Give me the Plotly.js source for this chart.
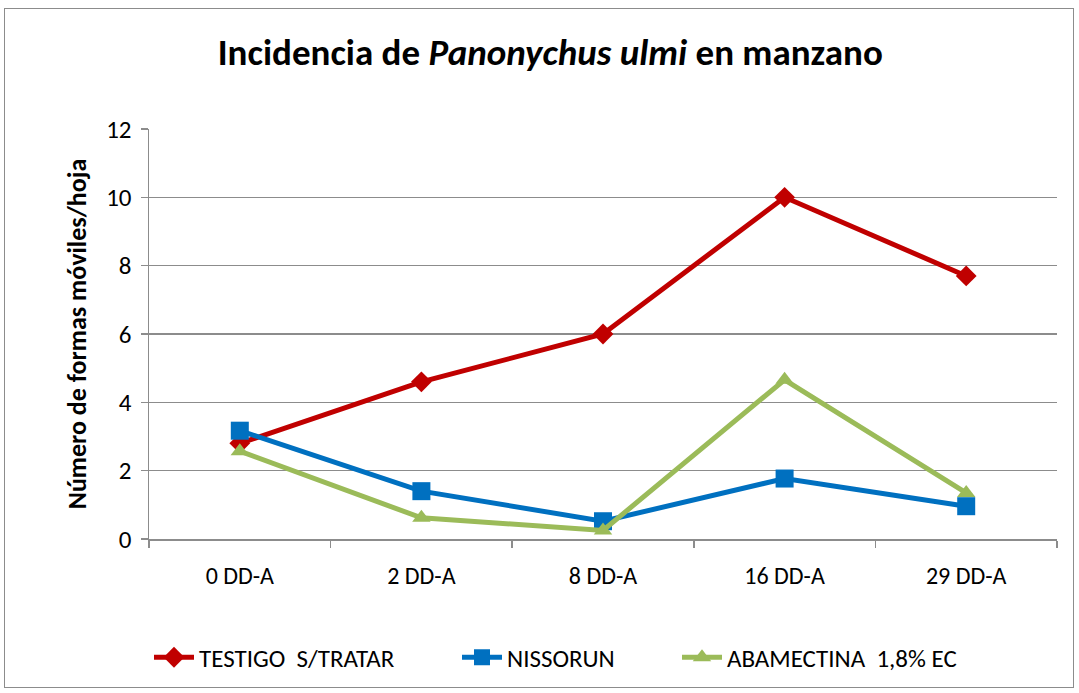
<!DOCTYPE html>
<html><head><meta charset="utf-8">
<script src="https://cdn.plot.ly/plotly-3.0.1.min.js"></script>
<style>
html,body{margin:0;padding:0;background:#fff;}
#wrap{position:relative;width:1079px;height:693px;}
#frame{position:absolute;left:4px;top:8px;width:1070px;height:680px;border:1.5px solid #8c8c8c;box-sizing:border-box;pointer-events:none;z-index:5;}
#chart{position:absolute;left:0;top:0;width:1079px;height:693px;}
</style></head>
<body><div id="wrap"><div id="chart"></div><div id="frame"></div></div>
<script>
const categories = ["0 DD-A", "2 DD-A", "8 DD-A", "16 DD-A", "29 DD-A"];
const testigo = [2.8, 4.6, 6.0, 10.0, 7.7];
const nissorun = [3.17, 1.4, 0.52, 1.77, 0.96];
const abamectina = [2.57, 0.62, 0.25, 4.66, 1.35];
const seriesNames = ["TESTIGO  S/TRATAR", "NISSORUN", "ABAMECTINA  1,8% EC"];
const yTicks = [0, 2, 4, 6, 8, 10, 12];

const FONT = 'Carlito, "Liberation Sans Narrow", "DejaVu Sans Condensed", sans-serif';

const traces = [
  {x: categories, y: testigo, name: seriesNames[0], type: 'scatter', mode: 'lines+markers', legendwidth: 253,
   line: {color: '#C00000', width: 5}, marker: {symbol: 'diamond', size: 16, color: '#C00000'}},
  {x: categories, y: nissorun, name: seriesNames[1], type: 'scatter', mode: 'lines+markers', legendwidth: 165,
   line: {color: '#0070C0', width: 5}, marker: {symbol: 'square', size: 18, color: '#0070C0'}},
  {x: categories, y: abamectina, name: seriesNames[2], type: 'scatter', mode: 'lines+markers',
   line: {color: '#9BBB59', width: 5}, marker: {symbol: 'triangle-up', size: 16, color: '#9BBB59'}}
];

const layout = {
  width: 1079, height: 693,
  margin: {l: 149, r: 22, t: 129, b: 154},
  paper_bgcolor: '#fff', plot_bgcolor: '#fff',
  font: {family: FONT, color: '#000'},
  title: {text: 'Incidencia de <i>Panonychus ulmi</i> en manzano', x: 0.51, xanchor: 'center', y: 0.925, yanchor: 'middle',
          font: {family: FONT, size: 37, color: '#000', weight: 'bold'}},
  xaxis: {type: 'category', range: [-0.5, 4.5], showgrid: false, showline: true, linecolor: '#8c8c8c', linewidth: 1.5,
          ticks: 'outside', tickson: 'boundaries', ticklen: 7, tickcolor: '#8c8c8c', tickwidth: 1.5, ticklabelstandoff: 15,
          tickfont: {family: FONT, size: 24, color: '#000'}, fixedrange: true, zeroline: false},
  yaxis: {range: [0, 12], tickvals: yTicks, ticktext: yTicks.map(String), showgrid: true, gridcolor: '#8c8c8c', gridwidth: 1.5,
          showline: true, linecolor: '#8c8c8c', linewidth: 1.5, ticks: 'outside', ticklen: 7, tickcolor: '#8c8c8c', tickwidth: 1.5,
          zeroline: false, tickfont: {family: FONT, size: 25, color: '#000'}, ticklabelstandoff: 4,
          title: {text: 'Número de formas móviles/hoja', standoff: 12, font: {family: FONT, size: 26, color: '#000', weight: 'bold'}}},
  legend: {orientation: 'h', x: 0.0, xanchor: 'left', y: -0.289, yanchor: 'middle',
           font: {family: FONT, size: 25, color: '#000'}, itemwidth: 40, traceorder: 'normal'},
  showlegend: true
};

Plotly.newPlot('chart', traces, layout, {displayModeBar: false, staticPlot: true});
</script></body></html>
